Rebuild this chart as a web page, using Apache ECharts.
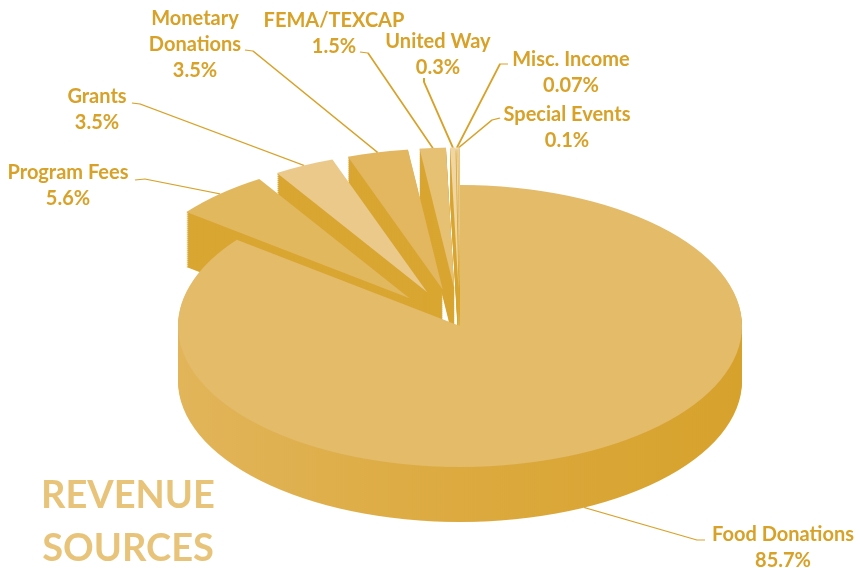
<!DOCTYPE html>
<html>
<head>
<meta charset="utf-8">
<title>Revenue Sources</title>
<script src="https://cdn.jsdelivr.net/npm/echarts@6/dist/echarts.min.js"></script>
<style>
  html, body { margin: 0; padding: 0; background: #fff; }
  #wrap { position: relative; width: 860px; height: 568px; overflow: hidden; }
  /* pie drawn twice as tall then squashed -> tilted disc */
  #pieChart { position: absolute; left: 0; top: 0; width: 860px; height: 1136px; transform: scaleY(0.5); transform-origin: 0 0; }
  /* labels + title on a normal (unsquashed) layer */
  #labelChart { position: absolute; left: 0; top: 0; width: 860px; height: 568px; }
</style>
</head>
<body>
<div id="wrap">
  <div id="pieChart"></div>
  <div id="labelChart"></div>
</div>
<script>
  // 数据
  var categories = ['Food Donations', 'Program Fees', 'Grants', 'Monetary Donations', 'FEMA/TEXCAP', 'United Way', 'Misc. Income', 'Special Events'];
  var values = [85.7, 5.6, 3.5, 3.5, 1.5, 0.3, 0.07, 0.1];
  var exploded = [false, true, true, true, true, true, true, true];

  // label block centres, screen px
  var labelX = [783, 68, 97, 195, 334, 438, 571, 567];
  var labelY = [548, 186, 110, 45, 34, 55, 73, 128];
  // where each leader line meets its label: stub end, then touch point (screen px)
  var elbowX = [697, 145, 140, 253, 368, 424, 500, 492];
  var elbowY = [540, 179, 104, 51, 53, 82, 64, 120];
  var touchX = [705, 135, 132, 245, 360, 424, 508, 500];
  var touchY = [540, 180, 103, 50, 52, 78, 64, 118];
  var fromSide = [true, false, false, false, false, false, false, false];

  var topColors = ['#E3BB69', '#E2B85F', '#EAC98A', '#E3B760', '#E6C073', '#EFD6A3', '#F0DAB0', '#EDD39E'];
  var textColor = '#D8A128';
  var bigSideColor = {
    type: 'linear', x: 0, y: 0, x2: 1, y2: 0,
    colorStops: [
      { offset: 0, color: '#E2B55A' },
      { offset: 0.5, color: '#DCAA3F' },
      { offset: 1, color: '#D7A22C' }
    ]
  };
  var smallSideColor = '#D9A631';

  var centerX = 460;
  var centerY = 326;   // screen
  var radius = 282;
  var depth = 110;     // in squashed coords (55px on screen)
  var explodeOffset = 75;

  function labelText(p) {
    var name = p.name.length > 15 ? p.name.replace(' ', '\n') : p.name;
    return name + '\n' + p.value + '%';
  }

  function buildData(colorFn) {
    return categories.map(function (c, i) {
      return { name: c, value: values[i], selected: exploded[i], itemStyle: { color: colorFn(i) } };
    });
  }

  var pieBase = {
    type: 'pie',
    startAngle: 90,
    clockwise: true,
    radius: radius,
    selectedMode: 'multiple',
    selectedOffset: explodeOffset,
    avoidLabelOverlap: false,
    animation: false,
    emphasis: { disabled: true }
  };

  // 侧面 (side walls), deepest first
  var series = [];
  for (var d = depth; d > 0; d -= 4) {
    series.push(Object.assign({}, pieBase, {
      z: 1,
      silent: true,
      center: [centerX, centerY * 2 + d],
      label: { show: false },
      labelLine: { show: false },
      data: buildData(function (i) { return exploded[i] ? smallSideColor : bigSideColor; })
    }));
  }

  // 顶面 + label lines (labels themselves invisible here)
  series.push(Object.assign({}, pieBase, {
    z: 2,
    center: [centerX, centerY * 2],
    label: {
      show: true,
      color: 'rgba(0,0,0,0)',
      fontFamily: 'Lato',
      fontWeight: 'bold',
      fontSize: 20,
      lineHeight: 52,
      formatter: labelText
    },
    labelLine: {
      show: true,
      length: 10,
      length2: 8,
      smooth: false,
      lineStyle: { color: textColor, width: 2 }
    },
    labelLayout: function (params) {
      var i = params.dataIndex;
      var out = { x: labelX[i], y: labelY[i] * 2, align: 'center', verticalAlign: 'middle' };
      var pts = params.labelLinePoints;
      if (pts && pts.length) {
        // the line moves with its exploded slice, so take that shift back off the label end
        var vx = pts[0][0] - centerX;
        var vy = pts[0][1] - centerY * 2;
        var len = Math.sqrt(vx * vx + vy * vy) || 1;
        var off = exploded[i] ? explodeOffset : 0;
        var sx = vx / len * off;
        var sy = vy / len * off;
        var p0 = [pts[0][0], pts[0][1] + (fromSide[i] ? depth : 0)];
        out.labelLinePoints = [
          p0,
          [elbowX[i] - sx, elbowY[i] * 2 - sy],
          [touchX[i] - sx, touchY[i] * 2 - sy]
        ];
      }
      return out;
    },
    data: buildData(function (i) { return topColors[i]; })
  }));

  var pieChart = echarts.init(document.getElementById('pieChart'));
  pieChart.setOption({ animation: false, series: series });

  // 文字层
  var labelChart = echarts.init(document.getElementById('labelChart'));
  labelChart.setOption({
    animation: false,
    title: {
      text: 'REVENUE\nSOURCES',
      left: 123,
      top: 464,
      textAlign: 'center',
      textStyle: {
        color: '#E8C47A',
        fontFamily: 'Lato',
        fontWeight: 'bold',
        fontSize: 38,
        lineHeight: 53
      }
    },
    series: [{
      type: 'pie',
      silent: true,
      center: [centerX, centerY],
      radius: 10,
      startAngle: 90,
      avoidLabelOverlap: false,
      itemStyle: { color: 'rgba(0,0,0,0)' },
      label: {
        show: true,
        color: textColor,
        fontFamily: 'Lato',
        fontWeight: 'bold',
        fontSize: 20,
        lineHeight: 26,
        formatter: labelText
      },
      labelLine: { show: false },
      labelLayout: function (params) {
        var i = params.dataIndex;
        return { x: labelX[i], y: labelY[i], align: 'center', verticalAlign: 'middle' };
      },
      data: categories.map(function (c, i) { return { name: c, value: values[i] }; })
    }]
  });
</script>
</body>
</html>
